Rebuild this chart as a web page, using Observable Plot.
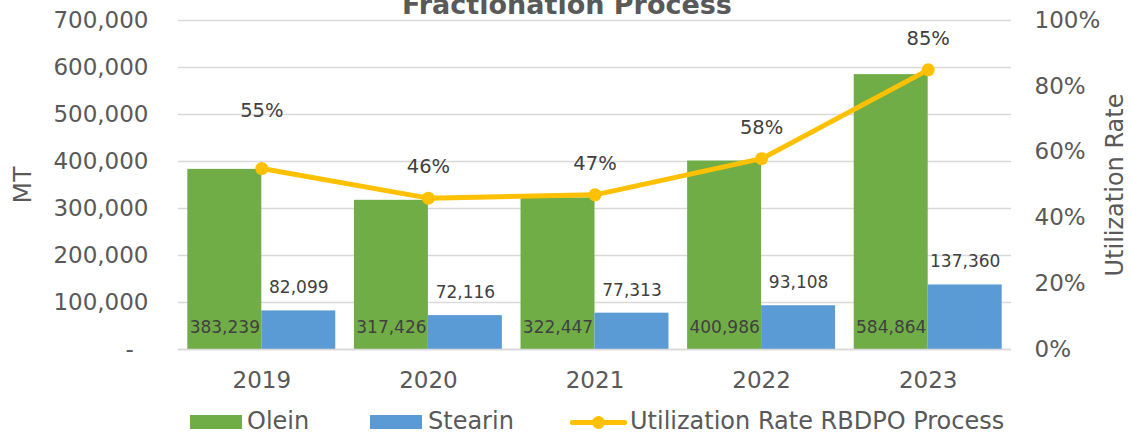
<!DOCTYPE html>
<html>
<head>
<meta charset="utf-8">
<script src="https://cdn.jsdelivr.net/npm/d3@7"></script>
<script src="https://cdn.jsdelivr.net/npm/@observablehq/plot@0.6"></script>
<style>
  html, body { margin: 0; padding: 0; background: #fff; overflow: hidden; }
  #wrap { position: relative; width: 1132px; height: 433px; overflow: hidden; font-family: "DejaVu Sans", sans-serif; }
  #chart svg { overflow: visible; }
  .leg { position: absolute; font-size: 24px; color: #595959; line-height: 1; white-space: nowrap; }
  .sw { position: absolute; }
</style>
</head>
<body>
<div id="wrap">
  <div id="chart"></div>
  <div id="legend"></div>
</div>
<script>
const years = [2019, 2020, 2021, 2022, 2023];
const olein = [383239, 317426, 322447, 400986, 584864];
const stearin = [82099, 72116, 77313, 93108, 137360];
const utilization = [55, 46, 47, 58, 85];
const leftTicks = [0, 100000, 200000, 300000, 400000, 500000, 600000, 700000];
const rightTicks = [0, 20, 40, 60, 80, 100];
const seriesNames = ["Olein", "Stearin", "Utilization Rate RBDPO Process"];
const title = "Fractionation Process";
const leftTitle = "MT";
const rightTitle = "Utilization Rate";

const colors = { olein: "#70AD47", stearin: "#5B9BD5", line: "#FFC000" };
const yMax = 700000;
const pctToY = p => p / 100 * yMax;
const half = 0.444;

const data = years.map((year, i) => ({ year, olein: olein[i], stearin: stearin[i], u: utilization[i] }));
const fmt = d3.format(",");

const plot = Plot.plot({
  width: 1132,
  height: 400,
  marginTop: 20,
  marginBottom: 51,
  marginLeft: 178,
  marginRight: 121,
  style: { fontFamily: "DejaVu Sans, sans-serif", overflow: "visible" },
  x: { domain: [2018.5, 2023.5] },
  y: { domain: [0, yMax] },
  marks: [
    Plot.ruleY(leftTicks, { stroke: "#d9d9d9", strokeWidth: 1.5 }),
    Plot.rectY(data, { x1: d => d.year - half, x2: d => d.year, y1: 0, y2: "olein", fill: colors.olein }),
    Plot.rectY(data, { x1: d => d.year, x2: d => d.year + half, y1: 0, y2: "stearin", fill: colors.stearin }),
    Plot.ruleY([0], { stroke: "#d9d9d9", strokeWidth: 1.5 }),
    Plot.axisY(leftTicks, { anchor: "left", tickSize: 0, tickPadding: 30, label: null, fontSize: 23, fill: "#595959",
      tickFormat: d => d === 0 ? "-\u00a0\u00a0" : fmt(d) }),
    Plot.axisY(rightTicks.map(pctToY), { anchor: "right", tickSize: 0, tickPadding: 23, label: null, fontSize: 23, fill: "#595959",
      tickFormat: d => Math.round(d / yMax * 100) + "%" }),
    Plot.axisX(years, { anchor: "bottom", tickSize: 0, tickPadding: 22, label: null, fontSize: 23, fill: "#595959", tickFormat: d => String(d) }),
    Plot.text([leftTitle], { frameAnchor: "left", dx: -156, rotate: -90, textAnchor: "middle", text: d => d, fontSize: 25, fill: "#595959" }),
    Plot.text([rightTitle], { frameAnchor: "right", dx: 104, rotate: -90, textAnchor: "middle", text: d => d, fontSize: 24, fill: "#595959" }),
    Plot.text([title], { frameAnchor: "top", dx: -28, dy: -7, lineAnchor: "bottom", text: d => d, fontSize: 27, fontWeight: "bold", fill: "#595959" }),
    Plot.text(data, { x: d => d.year - half / 2, y: 0, dy: -22, text: d => fmt(d.olein), fontSize: 17, fill: "#404040" }),
    Plot.text(data, { x: d => d.year + half / 2, y: "stearin", dy: -23, text: d => fmt(d.stearin), fontSize: 17, fill: "#404040" }),
    Plot.line(data, { x: "year", y: d => pctToY(d.u), stroke: colors.line, strokeWidth: 5 }),
    Plot.dot(data, { x: "year", y: d => pctToY(d.u), r: 6.5, fill: colors.line, stroke: "none" }),
    Plot.text(data.filter((d, i) => i !== 0), { x: "year", y: d => pctToY(d.u), dy: -31, text: d => d.u + "%", fontSize: 19.5, fill: "#404040" }),
    Plot.text(data.filter((d, i) => i === 0), { x: "year", y: d => pctToY(d.u), dy: -58, text: d => d.u + "%", fontSize: 19.5, fill: "#404040" })
  ]
});
document.getElementById("chart").appendChild(plot);

const legend = document.getElementById("legend");
const items = [
  { kind: "rect", color: colors.olein, x: 190, tx: 247 },
  { kind: "rect", color: colors.stearin, x: 370, tx: 428 },
  { kind: "line", color: colors.line, x: 570, tx: 630 }
];
items.forEach((it, i) => {
  if (it.kind === "rect") {
    const s = document.createElement("div");
    s.className = "sw";
    Object.assign(s.style, { left: it.x + "px", top: "415px", width: "52px", height: "14px", background: it.color });
    legend.appendChild(s);
  } else {
    const l = document.createElement("div");
    l.className = "sw";
    Object.assign(l.style, { left: it.x + "px", top: "419.5px", width: "57px", height: "5px", background: it.color, borderRadius: "2px" });
    legend.appendChild(l);
    const c = document.createElement("div");
    c.className = "sw";
    Object.assign(c.style, { left: (it.x + 22) + "px", top: "415.5px", width: "13px", height: "13px", background: it.color, borderRadius: "50%" });
    legend.appendChild(c);
  }
  const t = document.createElement("div");
  t.className = "leg";
  t.textContent = seriesNames[i];
  Object.assign(t.style, { left: it.tx + "px", top: "409px" });
  legend.appendChild(t);
});
</script>
</body>
</html>
